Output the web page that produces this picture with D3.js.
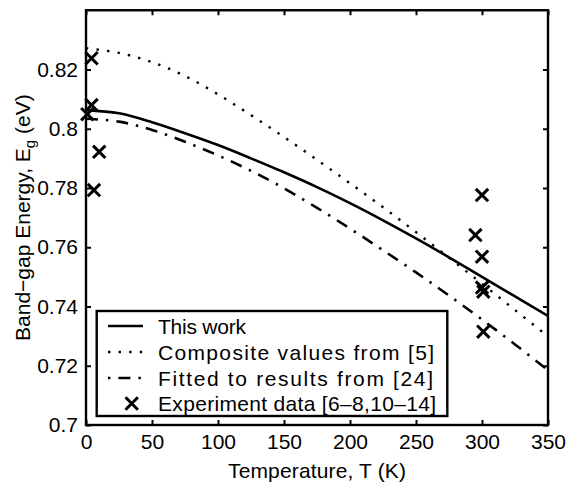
<!DOCTYPE html>
<html>
<head>
<meta charset="utf-8">
<script src="https://cdn.jsdelivr.net/npm/d3@7"></script>
<style>
  html, body { margin: 0; padding: 0; background: #fff; }
  svg { display: block; }
  text { font-family: "Liberation Sans", Arial, Helvetica, sans-serif; fill: #000; }
</style>
</head>
<body>
<svg id="chart" width="567" height="486"></svg>
<script>
// ---- data ----
const temps = [0, 25, 50, 75, 100, 125, 150, 175, 200, 225, 250, 275, 300, 325, 350];
const thisWork  = [0.8063, 0.8052, 0.8022, 0.7985, 0.7945, 0.7900, 0.7853, 0.7803, 0.7749, 0.7691, 0.7630, 0.7566, 0.7500, 0.7434, 0.7368];
const composite = [0.8272, 0.8256, 0.8225, 0.8178, 0.8116, 0.8046, 0.7972, 0.7895, 0.7816, 0.7735, 0.7651, 0.7565, 0.7477, 0.7388, 0.7299];
const fitted    = [0.8034, 0.8024, 0.7996, 0.7956, 0.7910, 0.7858, 0.7799, 0.7733, 0.7663, 0.7590, 0.7515, 0.7437, 0.7356, 0.7272, 0.7185];
const expT = [4.2, 4.2, 1, 10, 6, 300, 295, 300, 300, 301, 301];
const expE = [0.8238, 0.8080, 0.8049, 0.7922, 0.7793, 0.7776, 0.7641, 0.7568, 0.7464, 0.7450, 0.7315];
const xTicks = [0, 50, 100, 150, 200, 250, 300, 350];
const yTicks = [0.70, 0.72, 0.74, 0.76, 0.78, 0.80, 0.82];
const yTickLabels = ["0.7", "0.72", "0.74", "0.76", "0.78", "0.8", "0.82"];
const legendLabels = ["This work", "Composite values from [5]", "Fitted to results from [24]", "Experiment data [6\u20138,10\u201314]"];

// ---- layout ----
const L = 86, R = 548, Tp = 10.25, B = 425;
const svg = d3.select("#chart");
const x = d3.scaleLinear().domain([0, 350]).range([L, R]);
const y = d3.scaleLinear().domain([0.70, 0.84]).range([B, Tp]);

const plot = svg.append("g");
plot.append("clipPath").attr("id", "clip")
  .append("rect").attr("x", L).attr("y", Tp).attr("width", R - L).attr("height", B - Tp);

const line = (vals) => d3.line()
  .x((d, i) => x(temps[i]))
  .y(d => y(d))
  .curve(d3.curveCatmullRom)(vals);

const curves = plot.append("g").attr("clip-path", "url(#clip)");
curves.append("path").attr("d", line(thisWork))
  .attr("fill", "none").attr("stroke", "#000").attr("stroke-width", 2.6);
curves.append("path").attr("d", line(composite))
  .attr("fill", "none").attr("stroke", "#000").attr("stroke-width", 2.4)
  .attr("stroke-dasharray", "2.4,8.2");
curves.append("path").attr("d", line(fitted))
  .attr("fill", "none").attr("stroke", "#000").attr("stroke-width", 2.6)
  .attr("stroke-dasharray", "12,8,2.4,8");

// experiment markers
const xm = 6.2;
const crossPath = (cx, cy) => `M${cx - xm},${cy - xm}L${cx + xm},${cy + xm}M${cx - xm},${cy + xm}L${cx + xm},${cy - xm}`;
plot.append("g").selectAll("path").data(expT).join("path")
  .attr("d", (t, i) => crossPath(x(t), y(expE[i])))
  .attr("fill", "none").attr("stroke", "#000").attr("stroke-width", 3);

// ---- axes (ticks inward on all four sides) ----
const tk = 5;
const axB = d3.axisBottom(x).tickValues(xTicks).tickSize(-tk).tickPadding(9).tickFormat(d3.format("d"));
const axT = d3.axisTop(x).tickValues(xTicks).tickSize(-tk).tickFormat("");
const axLft = d3.axisLeft(y).tickValues(yTicks).tickSize(-tk).tickPadding(8)
  .tickFormat((d, i) => yTickLabels[i]);
const axRgt = d3.axisRight(y).tickValues(yTicks).tickSize(-tk).tickFormat("");

function styleAxis(g) {
  g.select(".domain").remove();
  g.selectAll(".tick line").attr("stroke", "#000").attr("stroke-width", 2);
  g.selectAll(".tick text").attr("font-size", 21).attr("font-family", '"Liberation Sans", Arial, sans-serif').attr("fill", "#000");
}
svg.append("g").attr("transform", `translate(0,${B})`).call(axB).call(styleAxis);
svg.append("g").attr("transform", `translate(0,${Tp})`).call(axT).call(styleAxis);
svg.append("g").attr("transform", `translate(${L},0)`).call(axLft).call(styleAxis);
svg.append("g").attr("transform", `translate(${R},0)`).call(axRgt).call(styleAxis);

// frame
svg.append("rect").attr("x", L).attr("y", Tp).attr("width", R - L).attr("height", B - Tp)
  .attr("fill", "none").attr("stroke", "#000").attr("stroke-width", 2.4);

// axis labels
svg.append("text").attr("x", (L + R) / 2).attr("y", 478).attr("text-anchor", "middle")
  .attr("font-size", 21).attr("textLength", 178).attr("lengthAdjust", "spacing")
  .text("Temperature, T (K)");

const yl = svg.append("text").attr("transform", `translate(30,${(Tp + B) / 2}) rotate(-90)`)
  .attr("text-anchor", "middle").attr("font-size", 21);
yl.append("tspan").text("Band\u2212gap Energy, E");
yl.append("tspan").attr("font-size", 15).attr("dy", 5).text("g");
yl.append("tspan").attr("dy", -5).text(" (eV)");

// ---- legend ----
const lg = svg.append("g");
lg.append("rect").attr("x", 96.7).attr("y", 311).attr("width", 350.6).attr("height", 105)
  .attr("fill", "#fff").attr("stroke", "#000").attr("stroke-width", 2.4);
const rowY = [326, 352, 378, 403.5];
const textW = [88, 276, 275, 278];
lg.selectAll("text.leg").data(legendLabels).join("text").attr("class", "leg")
  .attr("x", 158).attr("y", (d, i) => rowY[i] + 7.5).attr("font-size", 21)
  .attr("textLength", (d, i) => textW[i]).attr("lengthAdjust", "spacing")
  .text(d => d);
lg.append("line").attr("x1", 108).attr("x2", 143).attr("y1", rowY[0]).attr("y2", rowY[0])
  .attr("stroke", "#000").attr("stroke-width", 2.6);
lg.append("line").attr("x1", 108).attr("x2", 143).attr("y1", rowY[1]).attr("y2", rowY[1])
  .attr("stroke", "#000").attr("stroke-width", 2.4).attr("stroke-dasharray", "2.4,8.2");
lg.append("line").attr("x1", 108).attr("x2", 143).attr("y1", rowY[2]).attr("y2", rowY[2])
  .attr("stroke", "#000").attr("stroke-width", 2.6).attr("stroke-dasharray", "2.4,8,12,8,2.4,8");
lg.append("path").attr("d", crossPath(131.7, rowY[3]))
  .attr("fill", "none").attr("stroke", "#000").attr("stroke-width", 3);
</script>
</body>
</html>
